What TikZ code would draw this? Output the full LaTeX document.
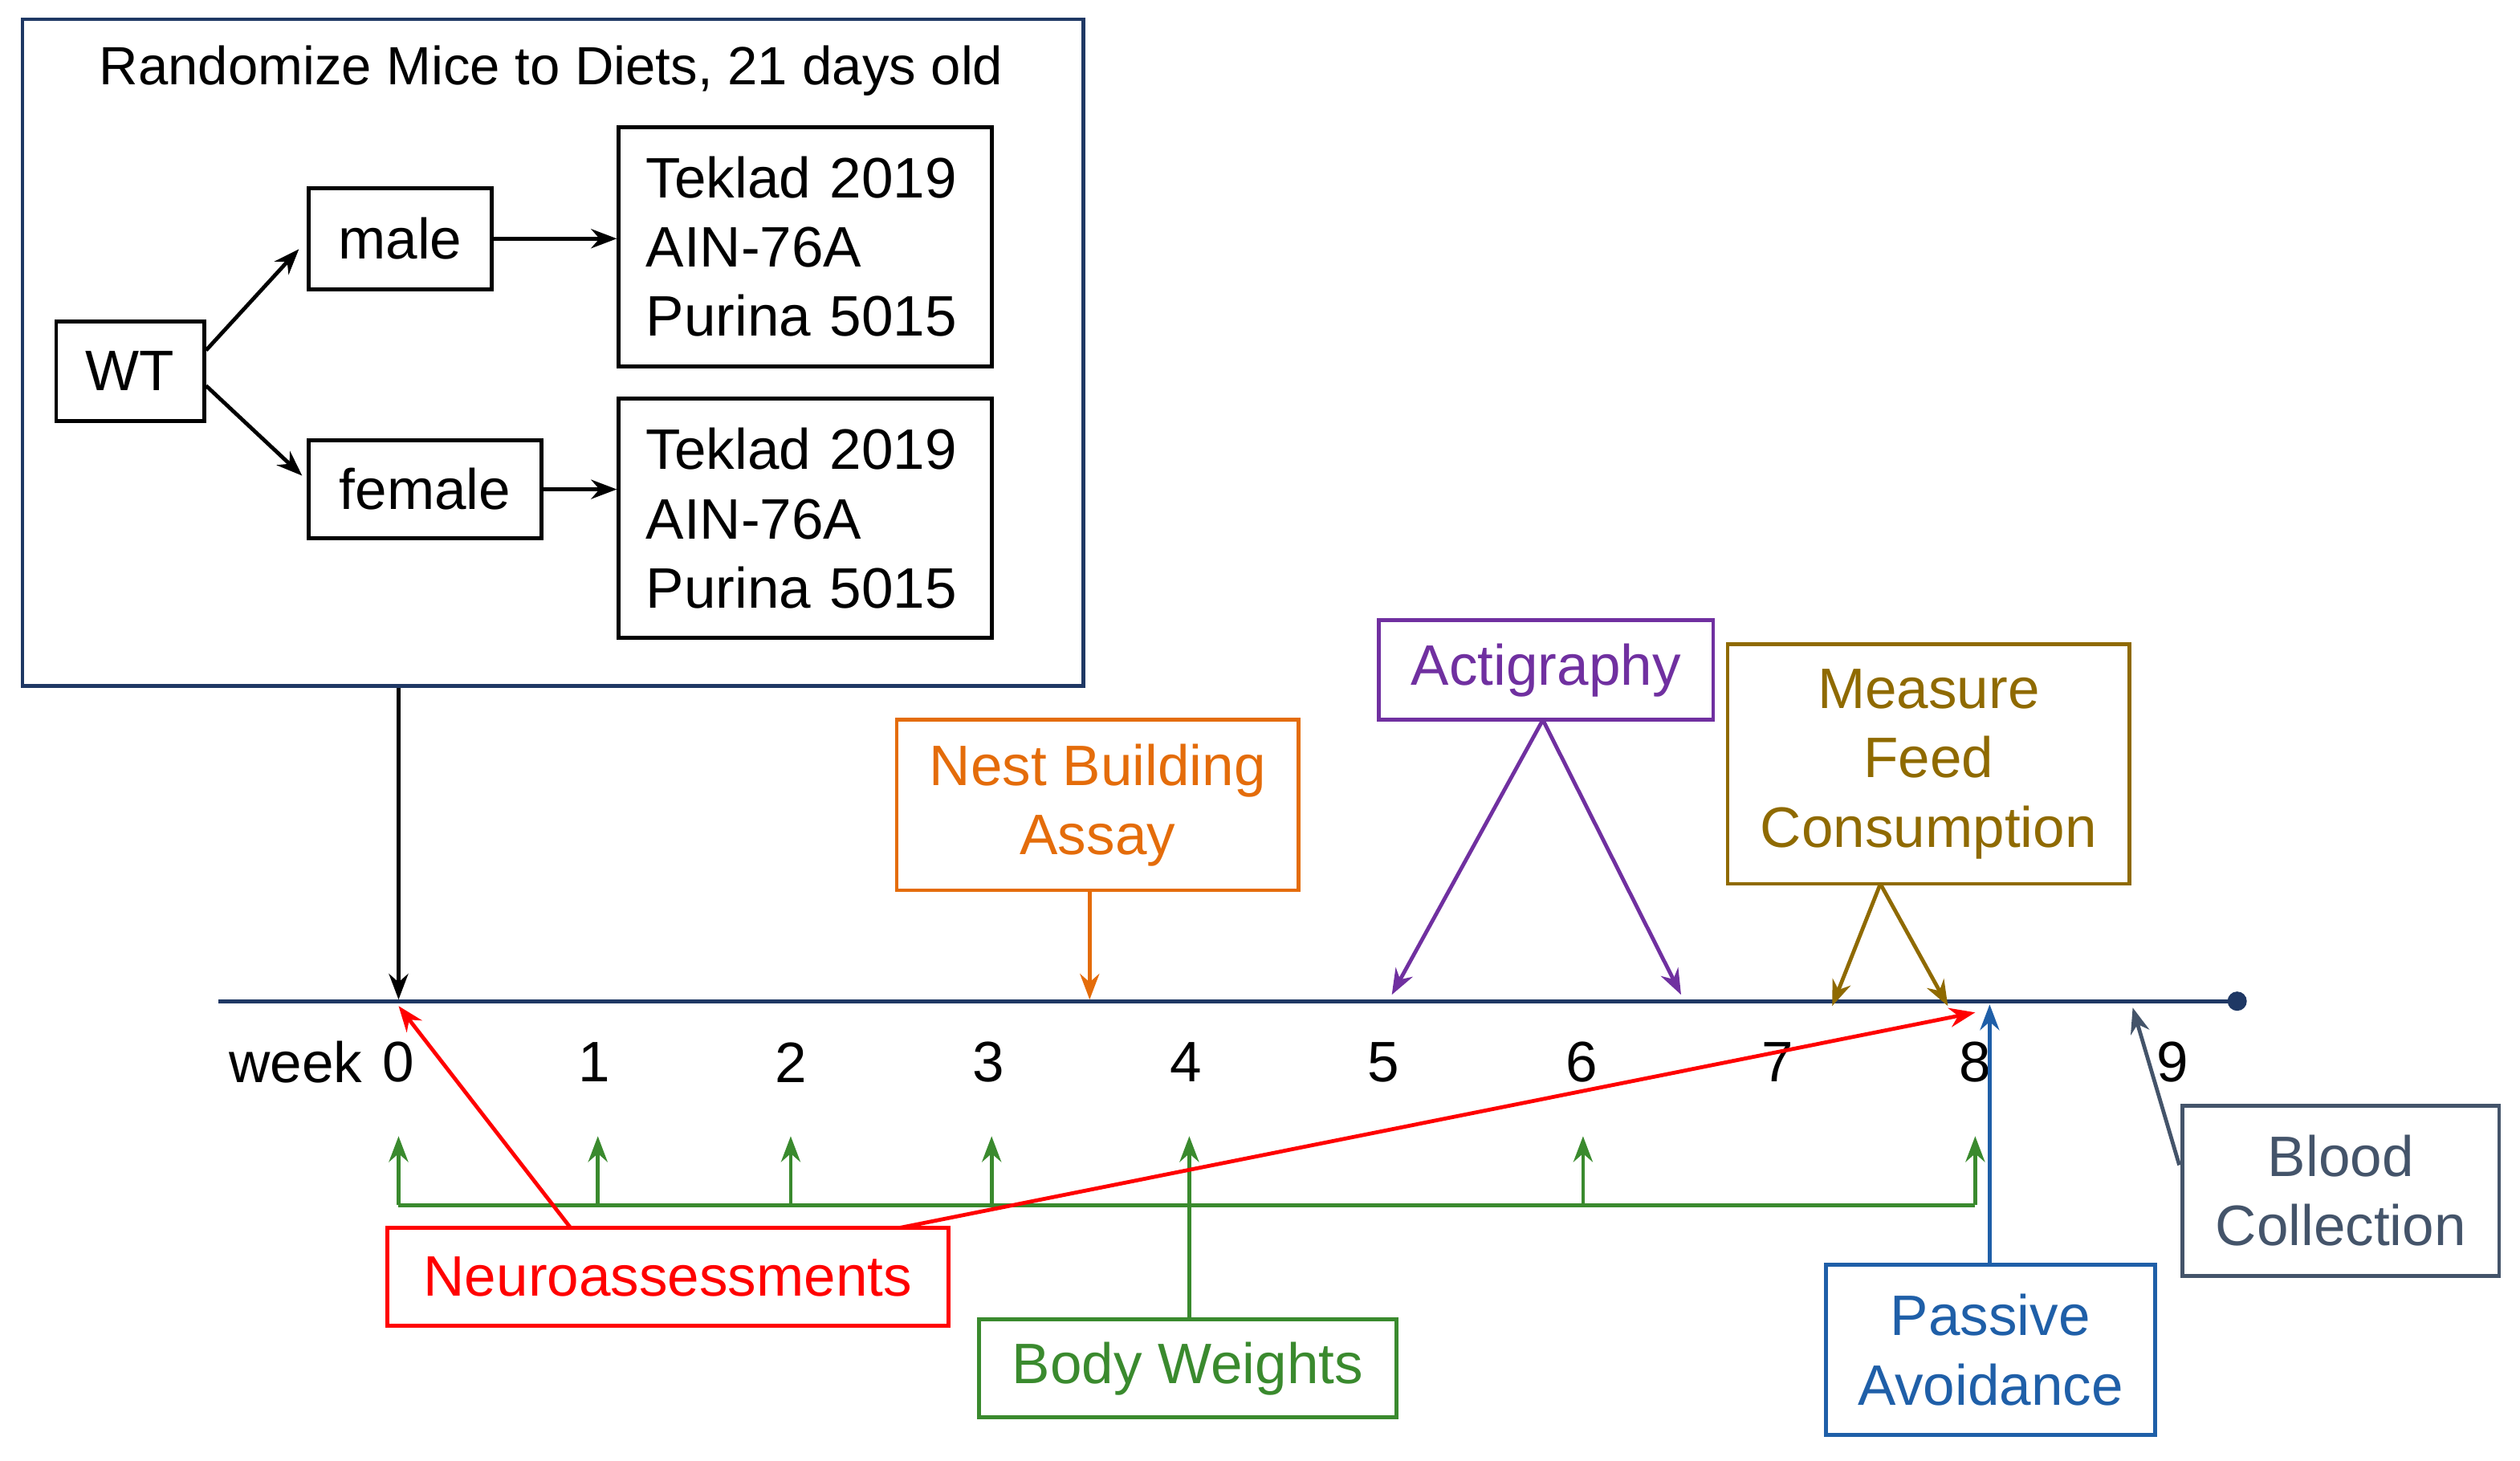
\documentclass[tikz,border=0pt]{standalone}
\usepackage{fontspec}
\setmainfont{Liberation Sans}
\usetikzlibrary{arrows.meta}
\begin{document}
\definecolor{navy}{HTML}{1F3864}
\definecolor{orng}{HTML}{E46C0A}
\definecolor{purp}{HTML}{7030A0}
\definecolor{brwn}{HTML}{8F6A00}
\definecolor{grn}{HTML}{3A8A2E}
\definecolor{blu}{HTML}{1F5FA8}
\definecolor{slate}{HTML}{44546A}
\begin{tikzpicture}[x=1pt,y=-1pt,
  txt/.style={font=\fontsize{35.5}{43}\selectfont},
  bx/.style={draw,line width=2.4pt,txt,inner sep=0pt},
  ar/.style={-{Stealth[length=16pt,width=12pt]},line width=2.4pt},
  ln/.style={line width=2.4pt}]
\useasboundingbox (0,0) rectangle (1568,909);
% big box
\node[bx,draw=navy,minimum width=660pt,minimum height=415pt] (big) at (344,219.5) {};
\node[txt,font=\fontsize{33.5}{36}\selectfont] (title) at (343,44) {Randomize Mice to Diets, 21 days old};
\node[bx,minimum width=92pt,minimum height=62pt] (wt) at (81,231) {WT};
\node[bx,minimum width=114pt,minimum height=63pt] (male) at (249,148.5) {male};
\node[bx,minimum width=145pt,minimum height=61pt] (female) at (264.5,304.5) {female};
\node[bx,minimum width=232pt,minimum height=149pt,align=left,text width=198pt,inner xsep=17pt] (d1) at (501,153.5) {Teklad 2019\\AIN-76A\\Purina 5015};
\node[bx,minimum width=232pt,minimum height=149pt,align=left,text width=198pt,inner xsep=17pt] (d2) at (501,322.5) {Teklad 2019\\AIN-76A\\Purina 5015};
\draw[ar] (wt.east|-0,218) -- (186,155);
\draw[ar] (wt.east|-0,240) -- (188,296);
\draw[ar] (male.east) -- (d1.west|-male.east);
\draw[ar] (female.east) -- (d2.west|-female.east);
% timeline
\coordinate (t0) at (136,623);
\coordinate (tend) at (1392,623);
\draw[navy,line width=2.4pt] (t0) -- (tend);
\fill[navy] (tend) circle (6);
\node[txt,anchor=east] (wk) at (229,661) {week};
\foreach \i/\x in {0/248,1/370,2/492,3/615,4/738,5/861,6/984,7/1106,8/1229,9/1352}
  \node[txt] (w\i) at (\x,661) {\i};
\draw[ar] (big.south-|248,0) -- (248,622);
% nest
\node[bx,draw=orng,text=orng,minimum width=250pt,minimum height=106pt,align=center] (nest) at (683,501) {Nest Building\\Assay};
\draw[ar,orng] (nest.south-|678,0) -- (678,622);
% actigraphy
\node[bx,draw=purp,text=purp,minimum width=208pt,minimum height=62pt] (act) at (962,417) {Actigraphy};
\draw[ar,purp] (960,448) -- (866,619);
\draw[ar,purp] (960,448) -- (1046,619);
% feed
\node[bx,draw=brwn,text=brwn,minimum width=250pt,minimum height=149pt,align=center] (feed) at (1200,475.5) {Measure\\Feed\\Consumption};
\draw[ar,brwn] (1170,550) -- (1140,626);
\draw[ar,brwn] (1170,550) -- (1212,626);
% green
\draw[ln,grn] (248,750) -- (1229,750);
\foreach \x in {248,372,492,617,985,1229}
  \draw[ar,grn] (\x,750) -- (\x,707);
\node[bx,draw=grn,text=grn,minimum width=260pt,minimum height=61pt] (bw) at (739,851.5) {Body Weights};
\draw[ar,grn] (bw.north-|740,0) -- (740,707);
% red
\node[bx,draw=red,text=red,minimum width=349pt,minimum height=61pt] (neuro) at (415.5,794.5) {Neuroassessments};
\draw[ar,red] (355,764) -- (248,626);
\draw[ar,red] (560,764) -- (1229,630);
% passive
\node[bx,draw=blu,text=blu,minimum width=205pt,minimum height=106pt,align=center] (pa) at (1238.5,840) {Passive\\Avoidance};
\draw[ar,blu] (pa.north-|1238,0) -- (1238,625);
% blood
\node[bx,draw=slate,text=slate,minimum width=197pt,minimum height=106pt,align=center] (bc) at (1456.5,741) {Blood\\Collection};
\draw[ar,slate] (1356,725) -- (1327,627);
\end{tikzpicture}
\end{document}
